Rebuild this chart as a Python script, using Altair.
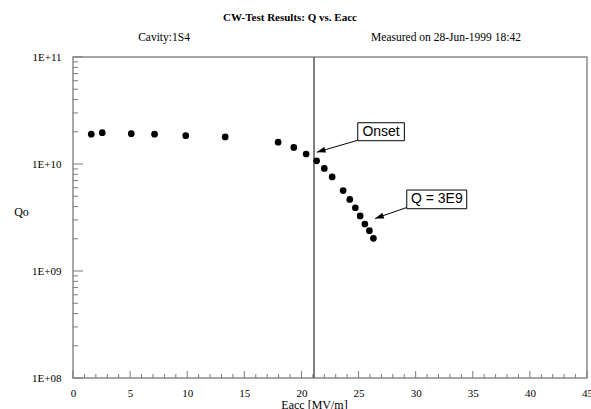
import altair as alt
import pandas as pd

# ---- data ----
eacc = [1.60, 2.56, 5.10, 7.14, 9.87, 13.32, 17.96, 19.33, 20.41, 21.33,
        22.00, 22.69, 23.65, 24.23, 24.72, 25.14, 25.55, 25.95, 26.30]
q0 = [1.90e10, 1.96e10, 1.92e10, 1.90e10, 1.84e10, 1.79e10, 1.60e10, 1.43e10,
      1.24e10, 1.07e10, 9.1e9, 7.57e9, 5.65e9, 4.67e9, 3.90e9, 3.27e9, 2.75e9,
      2.38e9, 2.02e9]
onset_eacc = [21.1]

title_text = ["CW-Test Results: Q vs. Eacc"]
cavity_text = ["Cavity:1S4"]
measured_text = ["Measured on 28-Jun-1999 18:42"]

ann_text = ["Onset", "Q = 3E9"]
ann_x = [26.97, 31.85]
ann_y = [2.0e10, 4.67e9]
box_x1 = [24.93, 29.22]
box_x2 = [29.01, 34.47]
box_y1 = [1.65e10, 3.82e9]
box_y2 = [2.43e10, 5.71e9]
arrow_x1 = [24.96, 29.22]
arrow_y1 = [1.67e10, 3.92e9]
arrow_x2 = [21.35, 26.45]
arrow_y2 = [1.29e10, 3.10e9]
arrow_angle = [253, 251]

x_major = [0, 5, 10, 15, 20, 25, 30, 35, 40, 45]
x_minor = [v for v in range(0, 46) if v % 5 != 0]
y_major = [1e8, 1e9, 1e10, 1e11]
y_minor = [k * 10.0 ** e for e in (8, 9, 10) for k in range(2, 10)]

SERIF = "Liberation Serif"
SANS = "Liberation Sans"
GRAY = "#8a8a8a"
TICK = "#7a7a7a"
W, H = 514, 321

pts = pd.DataFrame({"Eacc": eacc, "Qo": q0})
onset = pd.DataFrame({"Eacc": onset_eacc})
ann = pd.DataFrame({"text": ann_text, "tx": ann_x, "ty": ann_y,
                    "bx1": box_x1, "bx2": box_x2, "by1": box_y1, "by2": box_y2,
                    "ax1": arrow_x1, "ay1": arrow_y1, "ax2": arrow_x2, "ay2": arrow_y2,
                    "ang": arrow_angle})

xs = alt.Scale(domain=[0, 45], nice=False, zero=False)
ys = alt.Scale(type="log", domain=[1e8, 1e11], nice=False)

x_axis = alt.Axis(orient="bottom", values=x_major, ticks=False, domain=False, grid=False,
                  labelPadding=9, labelFont=SERIF, labelFontSize=11, labelColor="black",
                  labelFlush=False, labelOverlap=False,
                  title="Eacc [MV/m]", titleFont=SERIF, titleFontSize=12,
                  titleFontWeight="normal", titleColor="black",
                  titleX=241, titleY=30, titleAlign="center", titleBaseline="alphabetic")
y_axis = alt.Axis(orient="left", values=y_major, ticks=False, domain=False, grid=False,
                  labelPadding=12, labelFont=SERIF, labelFontSize=11, labelColor="black",
                  labelOverlap=False,
                  labelExpr="'1E+' + format(round(log(datum.value)/LN10), '02d')",
                  title="Qo", titleFont=SERIF, titleFontSize=12, titleFontWeight="normal",
                  titleColor="black", titleAngle=0, titleX=-52, titleY=154,
                  titleAlign="center", titleBaseline="middle")


def X(f):
    return alt.X(f, type="quantitative", scale=xs, axis=x_axis)


def Y(f):
    return alt.Y(f, type="quantitative", scale=ys, axis=y_axis)


def xticks(vals, length):
    return alt.Chart(pd.DataFrame({"Eacc": vals})).mark_rule(color=TICK, strokeWidth=1).encode(
        x=X("Eacc"), y=alt.value(H), y2=alt.value(H - length))


def yticks(vals, length):
    return alt.Chart(pd.DataFrame({"Qo": vals})).mark_rule(color=TICK, strokeWidth=1).encode(
        y=Y("Qo"), x=alt.value(0), x2=alt.value(length))


rule = alt.Chart(onset).mark_rule(color="#555555", strokeWidth=1.5).encode(x=X("Eacc"))
points = alt.Chart(pts).mark_circle(size=45, color="black", opacity=1).encode(x=X("Eacc"), y=Y("Qo"))
arrows = alt.Chart(ann).mark_rule(color="black", strokeWidth=1).encode(
    x=X("ax1"), x2="ax2", y=Y("ay1"), y2="ay2")
heads = alt.Chart(ann).mark_point(shape="M0,0L-0.35,1L0.35,1Z", filled=True, size=300,
                                  color="black", opacity=1, strokeWidth=0).encode(
    x=X("ax2"), y=Y("ay2"), angle=alt.Angle("ang:Q", scale=None))
boxes = alt.Chart(ann).mark_rect(fill="white", stroke="black", strokeWidth=1).encode(
    x=X("bx1"), x2="bx2", y=Y("by1"), y2="by2")
labels = alt.Chart(ann).mark_text(font=SANS, fontSize=14, color="black",
                                  align="center", baseline="middle").encode(
    x=X("tx"), y=Y("ty"), text="text:N")

head_title = alt.Chart(pd.DataFrame({"t": title_text})).mark_text(
    font=SERIF, fontSize=11, fontWeight="bold", color="black", align="center", baseline="middle"
).encode(x=alt.value(217), y=alt.value(-39), text="t:N")
head_cav = alt.Chart(pd.DataFrame({"t": cavity_text})).mark_text(
    font=SERIF, fontSize=11.5, color="black", align="center", baseline="middle"
).encode(x=alt.value(91), y=alt.value(-19), text="t:N")
head_meas = alt.Chart(pd.DataFrame({"t": measured_text})).mark_text(
    font=SERIF, fontSize=11.5, color="black", align="center", baseline="middle"
).encode(x=alt.value(373), y=alt.value(-19), text="t:N")

chart = alt.layer(
    xticks(x_minor, 4), xticks(x_major, 7), yticks(y_minor, 5), yticks(y_major, 10),
    rule, points, arrows, heads, boxes, labels, head_title, head_cav, head_meas
).properties(
    width=W, height=H, autosize="none",
    padding={"left": 73, "top": 57, "right": 4, "bottom": 31},
    background="white",
).configure_view(stroke=GRAY, strokeWidth=1.5)

chart.save("out.html", embed_options={"renderer": "svg", "actions": False})
